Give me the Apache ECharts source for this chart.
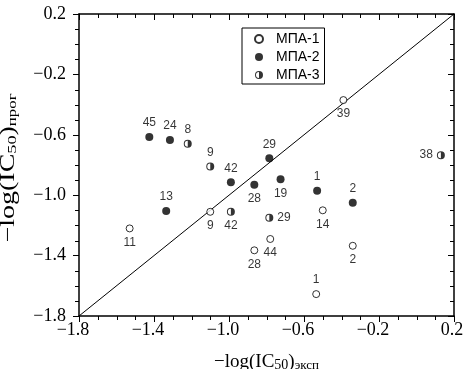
<!DOCTYPE html>
<html>
<head>
<meta charset="utf-8">
<script src="https://cdn.jsdelivr.net/npm/echarts@6/dist/echarts.min.js"></script>
<style>
html,body{margin:0;padding:0;background:#fff;}
#chart{width:469px;height:369px;}
</style>
</head>
<body>
<div id="chart"></div>
<script>
// Axis ticks (labelled), minor tick step
const axisTicks = [-1.8, -1.4, -1.0, -0.6, -0.2, 0.2];
const minorStep = 0.1;

// Diagonal reference line y = x
const diagX = [-1.8, 0.2];

// МПА-1 (open circles)
const mpa1Ids = ['11', '9', '39', '14', '2', '1', '44', '28'];
const mpa1X = [-1.53, -1.10, -0.39, -0.50, -0.34, -0.535, -0.78, -0.865];
const mpa1Y = [-1.22, -1.11, -0.37, -1.10, -1.335, -1.655, -1.29, -1.365];
const mpa1LabelPos = ['bottom', 'bottom', 'bottom', 'bottom', 'bottom', 'top', 'bottom', 'bottom'];

// МПА-2 (filled circles)
const mpa2Ids = ['45', '24', '13', '29', '42', '28', '19', '1', '2'];
const mpa2X = [-1.425, -1.315, -1.335, -0.785, -0.99, -0.865, -0.725, -0.53, -0.34];
const mpa2Y = [-0.615, -0.635, -1.105, -0.755, -0.915, -0.93, -0.895, -0.97, -1.05];
const mpa2LabelPos = ['top', 'top', 'top', 'top', 'top', 'bottom', 'bottom', 'top', 'top'];

// МПА-3 (half-filled circles)
const mpa3Ids = ['8', '9', '42', '29', '38'];
const mpa3X = [-1.22, -1.10, -0.99, -0.785, 0.13];
const mpa3Y = [-0.66, -0.81, -1.11, -1.15, -0.735];
const mpa3LabelPos = ['top', 'top', 'bottom', 'right', 'left'];

const seriesNames = ['МПА-1', 'МПА-2', 'МПА-3'];

const halfSymbol = 'path://M10,0A10,10,0,1,1,10,20A10,10,0,1,1,10,0ZM10,2.5A7.5,7.5,0,0,0,10,17.5Z';

const axMin = axisTicks[0];
const axMax = axisTicks[axisTicks.length - 1];

function buildData(xs, ys, ids, pos) {
  return xs.map((x, i) => ({
    value: [x, ys[i]],
    name: ids[i],
    label: { position: pos[i] }
  }));
}

const fmt = v => v.toFixed(1).replace('-', '\u2212');
const fmtX = v => (v < 0 ? '{m|' : '{p|') + fmt(v) + '}';

const labelStyle = {
  show: true,
  formatter: p => p.name,
  fontFamily: 'Liberation Sans',
  fontSize: 12,
  color: '#000',
  distance: 4
};

function nameRich() {
  return {
    a: { fontFamily: 'Liberation Serif', fontSize: 19, color: '#000', verticalAlign: 'bottom', lineHeight: 22 },
    b: { fontFamily: 'Liberation Serif', fontSize: 14, color: '#000', verticalAlign: 'bottom', lineHeight: 14 },
    c: { fontFamily: 'Liberation Serif', fontSize: 13, color: '#000', verticalAlign: 'bottom', lineHeight: 13 }
  };
}

function makeAxis(position, showLabel, inside) {
  return {
    type: 'value',
    position: position,
    min: axMin,
    max: axMax,
    interval: 0.4,
    splitLine: { show: false },
    axisLine: { show: true, onZero: false, lineStyle: { color: '#000', width: 1.5 } },
    axisTick: { show: true, inside: inside, length: 6, lineStyle: { color: '#000', width: 1 } },
    axisLabel: { show: showLabel }
  };
}

const xBottom = makeAxis('bottom', true, false);
xBottom.axisLabel = {
  show: true, formatter: fmtX, color: '#000', margin: 5,
  fontFamily: 'Liberation Serif', fontSize: 18,
  rich: {
    m: { fontFamily: 'Liberation Serif', fontSize: 18, color: '#000', padding: [0, 12, 0, 0] },
    p: { fontFamily: 'Liberation Serif', fontSize: 18, color: '#000', padding: [0, 4, 0, 0] }
  }
};
xBottom.name = '{a|\u2212log(IC}{b|50}{a|)}{c|эксп}';
xBottom.nameLocation = 'middle';
xBottom.nameGap = 34;
xBottom.nameTextStyle = { rich: nameRich() };

const yLeft = makeAxis('left', true, false);
yLeft.axisLabel = { show: true, formatter: fmt, fontFamily: 'Liberation Serif', fontSize: 18, color: '#000', margin: 13 };

const chart = echarts.init(document.getElementById('chart'), null, { renderer: 'canvas' });

chart.setOption({
  animation: false,
  backgroundColor: '#fff',
  grid: { left: 79, right: 15, top: 14, bottom: 53, outerBoundsMode: 'none' },
  legend: {
    orient: 'vertical',
    left: 242,
    top: 28,
    data: seriesNames,
    borderColor: '#000',
    borderWidth: 1,
    padding: [4, 5, 2, 12],
    itemWidth: 8,
    itemHeight: 8,
    itemGap: 4,
    textStyle: { fontFamily: 'Liberation Sans', fontSize: 14, color: '#000', lineHeight: 14, padding: [0, 0, 0, 8] }
  },
  xAxis: [xBottom, makeAxis('top', false, true)],
  yAxis: [yLeft, makeAxis('right', false, true)],
  series: [
    {
      type: 'line',
      data: diagX.map(v => [v, v]),
      showSymbol: false,
      symbol: 'none',
      lineStyle: { color: '#000', width: 1 },
      silent: true,
      z: 1
    },
    {
      name: seriesNames[0],
      type: 'scatter',
      data: buildData(mpa1X, mpa1Y, mpa1Ids, mpa1LabelPos),
      symbol: 'circle',
      symbolSize: 7,
      itemStyle: { color: '#fff', borderColor: '#000', borderWidth: 1 },
      label: labelStyle,
      z: 3
    },
    {
      name: seriesNames[1],
      type: 'scatter',
      data: buildData(mpa2X, mpa2Y, mpa2Ids, mpa2LabelPos),
      symbol: 'circle',
      symbolSize: 8,
      itemStyle: { color: '#000' },
      label: labelStyle,
      z: 3
    },
    {
      name: seriesNames[2],
      type: 'scatter',
      data: buildData(mpa3X, mpa3Y, mpa3Ids, mpa3LabelPos),
      symbol: halfSymbol,
      symbolKeepAspect: true,
      symbolSize: 8,
      itemStyle: { color: '#000', borderWidth: 0 },
      label: labelStyle,
      z: 3
    }
  ]
});

// Minor tick marks (between labelled ticks), positioned through the chart's axis scales
const elements = [];
const nMinor = Math.round((axMax - axMin) / minorStep);
const yB = Math.round(chart.convertToPixel({ yAxisIndex: 0 }, axMin));
const yT = Math.round(chart.convertToPixel({ yAxisIndex: 0 }, axMax));
const xL = Math.round(chart.convertToPixel({ xAxisIndex: 0 }, axMin));
const xR = Math.round(chart.convertToPixel({ xAxisIndex: 0 }, axMax));
for (let i = 0; i <= nMinor; i++) {
  if (i % 4 === 0) continue;
  const v = +(axMin + i * minorStep).toFixed(2);
  const x = Math.round(chart.convertToPixel({ xAxisIndex: 0 }, v));
  const y = Math.round(chart.convertToPixel({ yAxisIndex: 0 }, v));
  elements.push({ type: 'rect', shape: { x: x, y: yB, width: 1, height: 4 }, style: { fill: '#000' } });
  elements.push({ type: 'rect', shape: { x: x, y: yT, width: 1, height: 4 }, style: { fill: '#000' } });
  elements.push({ type: 'rect', shape: { x: xL - 4, y: y, width: 4, height: 1 }, style: { fill: '#000' } });
  elements.push({ type: 'rect', shape: { x: xR - 4, y: y, width: 4, height: 1 }, style: { fill: '#000' } });
}

// Y axis title (stretched along its length as in the original figure)
elements.push({
  type: 'text',
  x: 8,
  y: 168,
  rotation: Math.PI / 2,
  scaleX: 1.4,
  style: {
    text: '{a|\u2212log(IC}{b|50}{a|)}{c|прог}',
    align: 'center',
    verticalAlign: 'middle',
    fill: '#000',
    rich: {
      a: { fontFamily: 'Liberation Serif', fontSize: 20, fill: '#000', verticalAlign: 'bottom', lineHeight: 22 },
      b: { fontFamily: 'Liberation Serif', fontSize: 13, fill: '#000', verticalAlign: 'bottom', lineHeight: 13 },
      c: { fontFamily: 'Liberation Serif', fontSize: 12, fill: '#000', verticalAlign: 'bottom', lineHeight: 12 }
    }
  }
});

chart.setOption({ graphic: { elements: elements } });
</script>
</body>
</html>
